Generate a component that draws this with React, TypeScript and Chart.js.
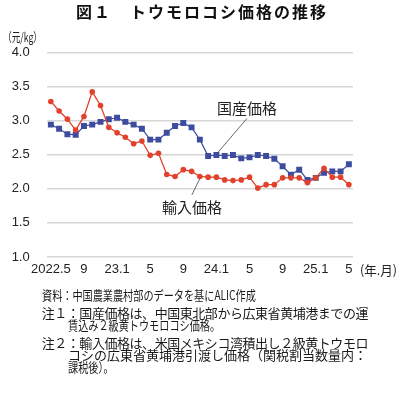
import React, { useEffect, useRef } from 'react';
import { Chart, registerables } from 'chart.js';

Chart.register(...registerables);

const categories = [
  '2022.5', '2022.6', '2022.7', '2022.8', '2022.9', '2022.10', '2022.11', '2022.12',
  '2023.1', '2023.2', '2023.3', '2023.4', '2023.5', '2023.6', '2023.7', '2023.8',
  '2023.9', '2023.10', '2023.11', '2023.12',
  '2024.1', '2024.2', '2024.3', '2024.4', '2024.5', '2024.6', '2024.7', '2024.8',
  '2024.9', '2024.10', '2024.11', '2024.12',
  '2025.1', '2025.2', '2025.3', '2025.4', '2025.5',
];
const tickLabels = ['2022.5', '9', '23.1', '5', '9', '24.1', '5', '9', '25.1', '5'];

const importPrice = [
  3.28, 3.14, 3.02, 2.86, 3.06, 3.42, 3.22, 2.9, 2.82, 2.755, 2.66, 2.7, 2.49, 2.52,
  2.21, 2.18, 2.28, 2.255, 2.18, 2.17, 2.17, 2.13, 2.12, 2.13, 2.17, 2.01, 2.06, 2.06,
  2.16, 2.16, 2.16, 2.09, 2.16, 2.3, 2.17, 2.17, 2.06,
];
const domesticPrice = [
  2.94, 2.88, 2.8, 2.79, 2.92, 2.94, 2.98, 3.02, 3.04, 2.98, 2.94, 2.88, 2.72, 2.72,
  2.82, 2.92, 2.965, 2.9, 2.72, 2.48, 2.495, 2.48, 2.495, 2.445, 2.46, 2.495, 2.48, 2.44,
  2.33, 2.205, 2.28, 2.13, 2.16, 2.235, 2.255, 2.255, 2.36,
];

const seriesNames = ['輸入価格', '国産価格'];
const titleText = '図１　トウモロコシ価格の推移';
const yUnitLabel = '（元/kg）';
const xUnitLabel = '(年.月)';
const noteLines = [
  '資料：中国農業農村部のデータを基にALIC作成',
  '注１：国産価格は、中国東北部から広東省黄埔港までの運',
  '賃込み２級黄トウモロコシ価格。',
  '注２：輸入価格は、米国メキシコ湾積出し２級黄トウモロ',
  'コシの広東省黄埔港引渡し価格（関税割当数量内：',
  '課税後）。',
];

const RED = '#e2412b';
const BLUE = '#3d4c9e';
const JP = '"Noto Sans CJK JP", "Noto Sans", sans-serif';
const LAT = '"Liberation Sans", Arial, sans-serif';

function fitText(ctx: CanvasRenderingContext2D, text: string, x: number, y: number, width: number) {
  const w = ctx.measureText(text).width;
  ctx.save();
  ctx.translate(x, y);
  ctx.scale(width / w, 1);
  ctx.textAlign = 'left';
  ctx.fillText(text, 0, 0);
  ctx.restore();
}

const overlayPlugin = {
  id: 'overlay',
  afterDraw(chart: any) {
    const ctx: CanvasRenderingContext2D = chart.ctx;
    const redPt = chart.getDatasetMeta(0).data[18];
    const bluePt = chart.getDatasetMeta(1).data[20];
    ctx.save();
    ctx.strokeStyle = '#444';
    ctx.lineWidth = 0.8;
    ctx.beginPath();
    ctx.moveTo(bluePt.x + 1, bluePt.y - 2);
    ctx.lineTo(bluePt.x + 30.5, bluePt.y - 36.5);
    ctx.moveTo(redPt.x, redPt.y + 2);
    ctx.lineTo(redPt.x - 8, redPt.y + 18.5);
    ctx.stroke();

    ctx.fillStyle = '#222';
    ctx.font = `15px ${JP}`;
    ctx.textBaseline = 'middle';
    ctx.textAlign = 'center';
    ctx.fillText(seriesNames[1], bluePt.x + 30.6, bluePt.y - 46.5);
    ctx.fillText(seriesNames[0], redPt.x - 7.8, redPt.y + 30.5);

    ctx.font = `12.5px ${JP}`;
    fitText(ctx, yUnitLabel, 3, 37, 39);
    ctx.font = `13px ${JP}`;
    fitText(ctx, xUnitLabel, 360, chart.chartArea.bottom + 13, 37);
    ctx.restore();
  },
};

export default function App() {
  const canvasRef = useRef<HTMLCanvasElement | null>(null);

  useEffect(() => {
    if (!canvasRef.current) return;
    const chart = new Chart(canvasRef.current, {
      type: 'line',
      data: {
        labels: categories,
        datasets: [
          {
            label: seriesNames[0],
            data: importPrice,
            borderColor: RED,
            backgroundColor: RED,
            borderWidth: 1.3,
            pointStyle: 'circle',
            pointRadius: 2.8,
            pointBorderWidth: 0,
            tension: 0,
          },
          {
            label: seriesNames[1],
            data: domesticPrice,
            borderColor: BLUE,
            backgroundColor: BLUE,
            borderWidth: 1.2,
            pointStyle: 'rect',
            pointRadius: 4.2,
            pointBorderWidth: 0,
            tension: 0,
          },
        ],
      },
      options: {
        animation: false,
        responsive: false,
        layout: { padding: { top: 52.3, left: 0, right: 47, bottom: 116 } },
        plugins: {
          legend: { display: false },
          tooltip: { enabled: false },
          title: { display: false },
        },
        scales: {
          x: {
            type: 'category',
            offset: true,
            grid: { display: false, drawTicks: false },
            border: { display: false },
            ticks: {
              autoSkip: false,
              maxRotation: 0,
              minRotation: 0,
              padding: 5,
              color: '#222',
              font: { family: LAT, size: 13 },
              callback: (_v: any, i: number) => (i % 4 === 0 ? tickLabels[i / 4] : ''),
            },
            afterFit: (s: any) => {
              s.height = 20;
            },
          },
          y: {
            min: 1,
            max: 4,
            grid: { color: '#d6d6d6', lineWidth: 1.5, drawTicks: false },
            border: { display: false },
            ticks: {
              stepSize: 0.5,
              padding: 17,
              color: '#222',
              font: { family: LAT, size: 13 },
              callback: (v: any) => Number(v).toFixed(1),
            },
            afterFit: (s: any) => {
              s.width = 46.7;
            },
          },
        },
      },
      plugins: [overlayPlugin],
    } as any);
    return () => chart.destroy();
  }, []);

  const lineStyle = (top: number, left: number, extra: React.CSSProperties): React.CSSProperties => ({
    position: 'absolute',
    top: top - 8,
    left,
    height: 16,
    lineHeight: '16px',
    whiteSpace: 'nowrap',
    fontSize: 13,
    color: '#1a1a1a',
    fontFamily: JP,
    transformOrigin: 'left center',
    ...extra,
  });

  return (
    <div style={{ position: 'absolute', left: 0, top: 0, width: 400, height: 393, background: '#fff', overflow: 'hidden' }}>
      <canvas ref={canvasRef} width={400} height={393} style={{ position: 'absolute', left: 0, top: 0 }} />
      <div
        style={{
          position: 'absolute',
          top: 0,
          left: 0,
          width: 400,
          height: 23,
          lineHeight: '23px',
          textAlign: 'center',
          fontFamily: JP,
          fontWeight: 'bold',
          fontSize: 16,
          letterSpacing: 2,
          paddingLeft: 2,
          color: '#111',
          whiteSpace: 'nowrap',
        }}
      >
        {titleText}
      </div>
      <div style={lineStyle(295, 41.7, { transform: 'scaleX(0.78)' })}>{noteLines[0]}</div>
      <div style={lineStyle(312.7, 41.7, { letterSpacing: -0.45 })}>{noteLines[1]}</div>
      <div style={lineStyle(325, 68, { transform: 'scaleX(0.78)' })}>{noteLines[2]}</div>
      <div style={lineStyle(342.7, 41.7, { letterSpacing: -0.45 })}>{noteLines[3]}</div>
      <div style={lineStyle(355, 68, { letterSpacing: 0 })}>{noteLines[4]}</div>
      <div style={lineStyle(367.3, 68, { transform: 'scaleX(0.78)' })}>{noteLines[5]}</div>
    </div>
  );
}
